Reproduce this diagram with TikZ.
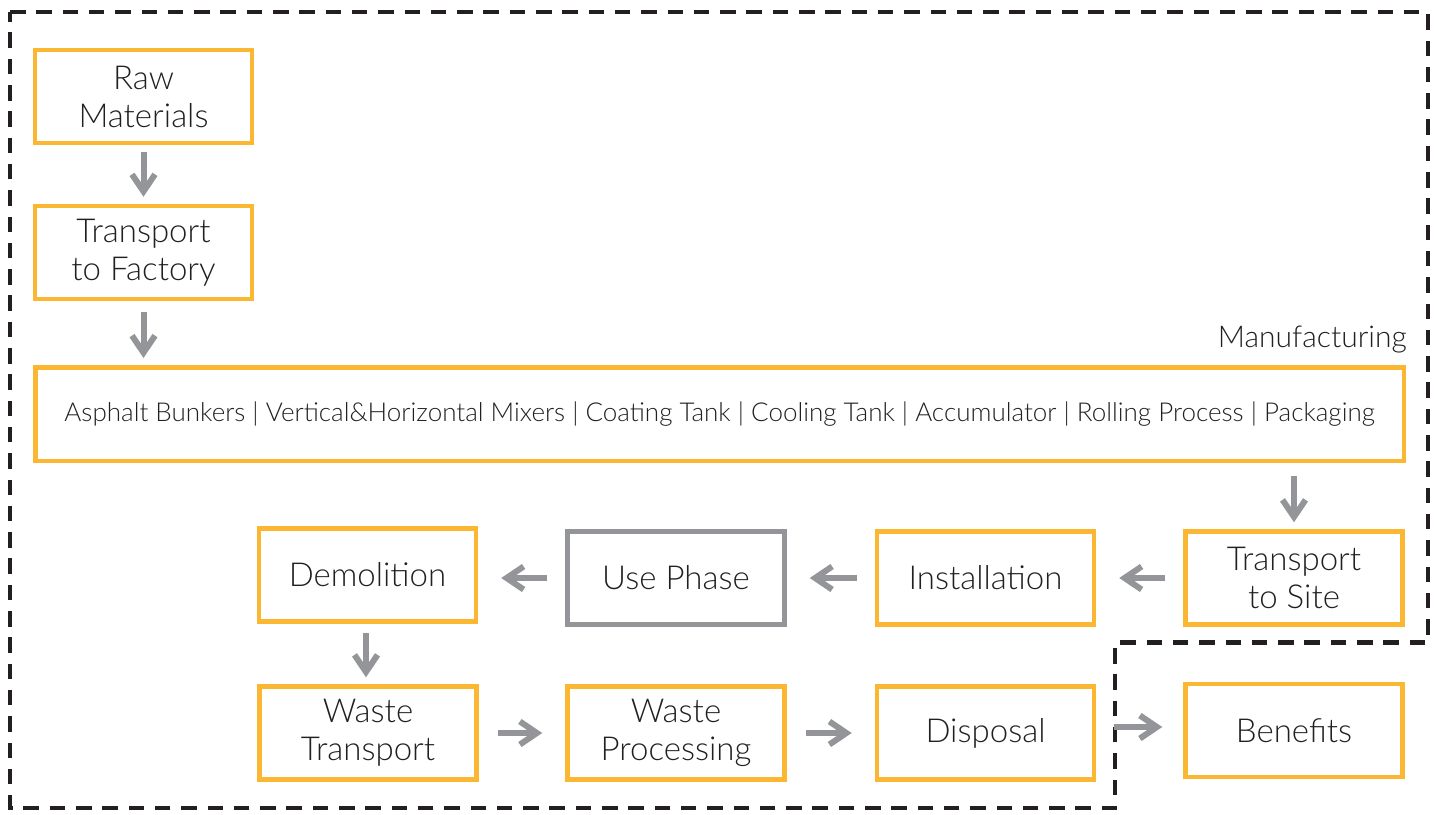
\documentclass[tikz,border=0pt]{standalone}
\usepackage{fontspec}
\setmainfont{Lato Light}
\usetikzlibrary{arrows.meta}
\definecolor{boxor}{HTML}{FBB731}
\definecolor{arrgray}{HTML}{939598}
\definecolor{txt}{HTML}{231F20}
\definecolor{dashc}{HTML}{231F20}
\tikzset{
  box/.style={draw=boxor, line width=4.5pt, minimum width=217pt, minimum height=93pt,
    inner sep=0pt, align=center, text=txt, font=\fontsize{33}{38}\selectfont},
  graybox/.style={box, draw=arrgray},
  arr/.style={draw=arrgray, line width=6pt, -{Straight Barb[length=17pt,width=23pt]}},
  border/.style={draw=dashc, line width=4.5pt, dash pattern=on 15.5pt off 10.8pt}
}
\begin{document}
\begin{tikzpicture}[x=1pt,y=-1pt]
\useasboundingbox (0,0) rectangle (1435,814);
\draw[border] (10,12) -- (1428,12) -- (1428,642.5) -- (1115,642.5) -- (1115,808) -- (10,808) -- cycle;

\node[box] (raw) at (143.5,96.5) {Raw\\Materials};
\node[box] (tfac) at (143.5,252.5) {Transport\\to Factory};
\node[box, minimum width=1368.5pt, minimum height=93.5pt, font=\fontsize{26}{30}\selectfont] (manu) at (719.5,414)
  {Asphalt Bunkers | Vertical\&Horizontal Mixers | Coating Tank | Cooling Tank | Accumulator | Rolling Process | Packaging};
\node[anchor=base east, inner sep=0pt, text=txt, font=\fontsize{30}{34}\selectfont] (mlabel) at (1407,347) {Manufacturing};
\node[box] (tsite) at (1294,578) {Transport\\to Site};
\node[box] (inst) at (985.5,578) {Installation};
\node[graybox] (use) at (676,578) {Use Phase};
\node[box] (demo) at (367.5,575) {Demolition};
\node[box] (wt) at (368,733) {Waste\\Transport};
\node[box] (wp) at (676,733) {Waste\\Processing};
\node[box] (disp) at (985.5,733) {Disposal};
\node[box] (ben) at (1294,730.5) {Benefits};

\draw[arr, shorten <=7pt, shorten >=7pt] (raw) -- (tfac);
\draw[arr, shorten <=11pt, shorten >=7pt] (tfac.south) -- (manu.north -| tfac.south);
\draw[arr, shorten <=13pt, shorten >=7pt] (manu.south -| tsite.north) -- (tsite.north);
\draw[arr, shorten <=18pt, shorten >=23pt] (tsite) -- (inst);
\draw[arr, shorten <=18pt, shorten >=23pt] (inst) -- (use);
\draw[arr, shorten <=18pt, shorten >=23pt] (use.west) -- (demo.east |- use.west);
\draw[arr, shorten <=9pt, shorten >=7pt] (demo.south -| 366,0) -- (wt.north -| 366,0);
\draw[arr, shorten <=19pt, shorten >=23pt] (wt) -- (wp);
\draw[arr, shorten <=19pt, shorten >=23pt] (wp) -- (disp);
\draw[arr, shorten <=18pt, shorten >=21pt] (disp.east |- 0,727) -- (ben.west |- 0,727);
\end{tikzpicture}
\end{document}
